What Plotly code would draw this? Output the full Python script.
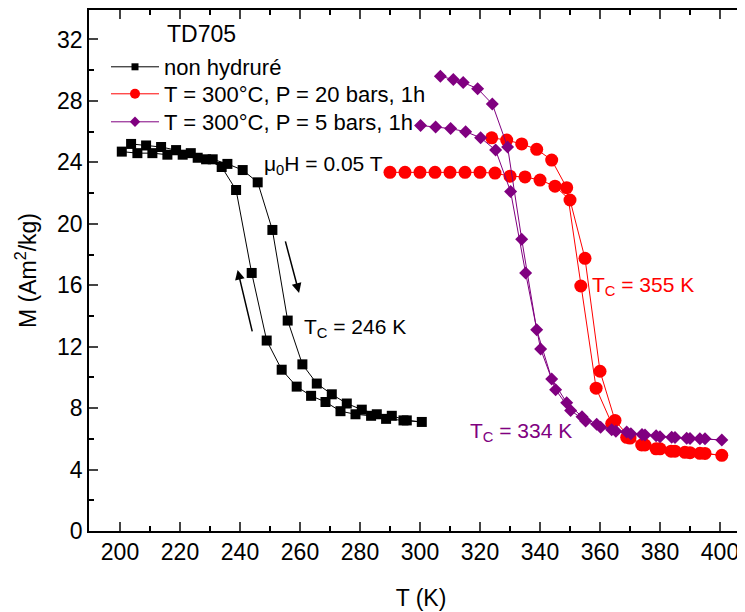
import plotly.graph_objects as go

# ---- data ----
black_T_heat = [200.6, 205.8, 210.8, 215.8, 220.9, 225.9, 230.9, 235.8, 240.9, 245.9, 250.8,
                255.9, 260.8, 265.6, 270.6, 275.6, 280.6, 285.6, 290.6, 295.6, 300.6]
black_M_heat = [24.7, 24.6, 24.6, 24.5, 24.5, 24.3, 24.2, 23.9, 23.5, 22.7, 19.6,
                13.7, 10.85, 9.6, 8.9, 8.3, 7.9, 7.6, 7.5, 7.2, 7.1]
black_T_cool = [294.5, 288.7, 283.7, 278.5, 273.5, 268.5, 263.7, 258.9, 253.9, 248.9, 243.9,
                238.7, 233.9, 228.7, 223.6, 218.7, 213.7, 208.7, 203.7]
black_M_cool = [7.2, 7.3, 7.5, 7.6, 7.8, 8.4, 8.8, 9.4, 10.5, 12.4, 16.8,
                22.2, 23.7, 24.2, 24.6, 24.8, 25.0, 25.1, 25.2]

red_T_heat = [290, 295, 300, 305, 310, 315, 320, 325, 330, 335, 340, 345, 350, 355, 360, 365,
              370, 375, 380, 385, 390, 395, 400.6]
red_M_heat = [23.35, 23.35, 23.35, 23.35, 23.35, 23.35, 23.35, 23.3, 23.1, 23.05, 22.85, 22.45,
              21.55, 17.75, 10.4, 7.2, 6.05, 5.6, 5.35, 5.2, 5.1, 5.05, 4.93]
red_T_cool = [393.3, 388.3, 383.7, 378.7, 373.9, 368.9, 363.9, 358.7, 353.6, 348.9, 343.9,
              338.9, 333.9, 328.9, 323.9]
red_M_cool = [5.06, 5.12, 5.2, 5.35, 5.6, 6.1, 7.0, 9.3, 15.95, 22.35, 24.15,
              24.85, 25.2, 25.45, 25.6]

pur_T_heat = [300.2, 305.2, 310.2, 315.2, 320.2, 325.2, 330.2, 335.2, 340.2, 345.2, 350.2,
              355.2, 360.2, 365.3, 370.3, 375, 380, 385, 390, 395, 400.6]
pur_M_heat = [26.4, 26.3, 26.2, 26.0, 25.6, 24.8, 22.1, 16.8, 11.85, 9.2, 7.85,
              7.16, 6.75, 6.5, 6.33, 6.25, 6.14, 6.08, 6.03, 6.0, 5.93]
pur_T_cool = [393.3, 388.9, 383.9, 378.7, 374, 368.9, 363.9, 358.9, 354, 348.9, 343.9,
              338.9, 333.9, 329.2, 324.1, 319.2, 314.4, 311.1, 306.8]
pur_M_cool = [6.0, 6.04, 6.1, 6.2, 6.28, 6.45, 6.6, 6.95, 7.44, 8.35, 9.9,
              13.1, 19.0, 25.0, 27.8, 28.8, 29.2, 29.4, 29.6]

names = ["non hydruré", "T = 300°C, P = 20 bars, 1h", "T = 300°C, P = 5 bars, 1h"]
x_ticks = [200, 220, 240, 260, 280, 300, 320, 340, 360, 380, 400]
y_ticks = [0, 4, 8, 12, 16, 20, 24, 28, 32]

FONT = "Liberation Sans, Arial, sans-serif"
BLACK, RED, PURPLE = "#000000", "#FF0000", "#800080"

# page is rendered with an 8 px body margin; plot area spans page x 89..753, y 10..531
PX0, PW, PY1, PH = 89, 664, 531, 521


def px(x):
    return (x - PX0) / PW


def py(y):
    return (PY1 - y) / PH


series = [
    (names[0], black_T_heat + black_T_cool, black_M_heat + black_M_cool, BLACK, "square", 10, 7),
    (names[1], red_T_heat + red_T_cool, red_M_heat + red_M_cool, RED, "circle", 13, 10),
    (names[2], pur_T_heat + pur_T_cool, pur_M_heat + pur_M_cool, PURPLE, "diamond", 10, 8),
]
legend_ids = ["legend", "legend2", "legend3"]
legend_tops = [46, 73, 101]

fig = go.Figure()
for name, xs, ys, col, sym, size, leg_size in series:
    fig.add_trace(go.Scatter(
        x=xs, y=ys, name=name, legendgroup=name, showlegend=False,
        mode="lines+markers", line=dict(color=col, width=1),
        marker=dict(symbol=sym, size=size, color=col)))
for (name, xs, ys, col, sym, size, leg_size), lid in zip(series, legend_ids):
    # legend entry with the smaller legend symbol
    fig.add_trace(go.Scatter(
        x=[None], y=[None], name=name, legendgroup=name, showlegend=True, legend=lid,
        mode="lines+markers", line=dict(color=col, width=1),
        marker=dict(symbol=sym, size=leg_size, color=col)))

annotations = [
    dict(text="TD705", xref="paper", yref="paper", x=px(165), y=py(34),
         xanchor="left", yanchor="middle", showarrow=False, font=dict(size=23, color=BLACK)),
    dict(text="μ<sub>0</sub>H = 0.05 T", x=247.2, y=23.8, xanchor="left", yanchor="middle",
         showarrow=False, font=dict(size=21, color=BLACK)),
    dict(text="T<sub>C</sub> = 246 K", x=260.7, y=13.2, xanchor="left", yanchor="middle",
         showarrow=False, font=dict(size=21, color=BLACK)),
    dict(text="T<sub>C</sub> = 355 K", x=356.5, y=15.95, xanchor="left", yanchor="middle",
         showarrow=False, font=dict(size=21, color=RED)),
    dict(text="T<sub>C</sub> = 334 K", x=316.0, y=6.45, xanchor="left", yanchor="middle",
         showarrow=False, font=dict(size=21, color=PURPLE)),
    # hysteresis direction arrows
    dict(text="", x=259.7, y=15.5, ax=255.0, ay=18.95, axref="x", ayref="y",
         showarrow=True, arrowhead=2, arrowsize=1.3, arrowwidth=1.5, arrowcolor=BLACK),
    dict(text="", x=239.2, y=17.0, ax=244.2, ay=12.9, axref="x", ayref="y",
         showarrow=True, arrowhead=2, arrowsize=1.3, arrowwidth=1.5, arrowcolor=BLACK),
]

legend_style = dict(xanchor="left", yanchor="top", bgcolor="rgba(0,0,0,0)",
                    font=dict(size=22), itemwidth=48)
layout_legends = {}
for lid, top in zip(legend_ids, legend_tops):
    layout_legends[lid] = dict(x=px(106), y=py(top), **legend_style)

fig.update_layout(
    width=745, height=612,
    margin=dict(l=81, r=0, t=2, b=89, autoexpand=False),
    paper_bgcolor="white", plot_bgcolor="white",
    font=dict(family=FONT, color=BLACK, size=21),
    showlegend=True,
    annotations=annotations,
    **layout_legends,
)
fig.update_xaxes(
    range=[189.67, 411.0], tickvals=x_ticks, ticks="inside", ticklen=9, tickwidth=1.5,
    showline=True, linewidth=1.5, linecolor=BLACK, mirror="ticks", showgrid=False, zeroline=False,
    automargin=False,
    tickfont=dict(size=23), title=dict(text="T (K)", font=dict(size=23), standoff=26),
    minor=dict(dtick=10, tick0=200, ticks="inside", ticklen=5, tickwidth=1.5, tickcolor=BLACK),
)
fig.update_yaxes(
    range=[0, 33.92], tickvals=y_ticks, ticks="inside", ticklen=9, tickwidth=1.5,
    showline=True, linewidth=1.5, linecolor=BLACK, mirror=False, showgrid=False, zeroline=False,
    automargin=False,
    tickfont=dict(size=23), title=dict(text="M (Am<sup>2</sup>/kg)", font=dict(size=23), standoff=14),
    minor=dict(dtick=2, tick0=0, ticks="inside", ticklen=5, tickwidth=1.5, tickcolor=BLACK),
)

fig.write_html("out.html")
